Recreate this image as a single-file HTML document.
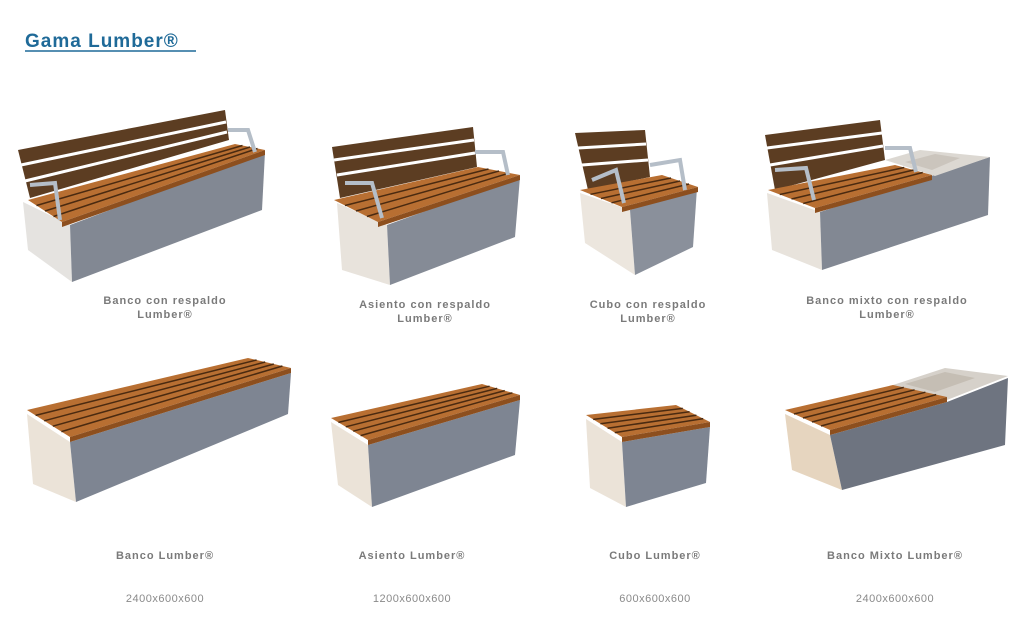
<!DOCTYPE html>
<html><head><meta charset="utf-8"><style>
html,body{margin:0;padding:0;background:#fff;}
body{width:1030px;height:644px;overflow:hidden;position:relative;font-family:"Liberation Sans",sans-serif;}
svg{position:absolute;left:0;top:0;}
</style></head><body>
<svg width="1030" height="644" viewBox="0 0 1030 644" xmlns="http://www.w3.org/2000/svg">
<text x="25" y="47" font-family="Liberation Sans, sans-serif" font-size="19" font-weight="bold" fill="#1f6a98" letter-spacing="1">Gama Lumber®</text>
<line x1="25" y1="51" x2="196" y2="51" stroke="#1f6a98" stroke-width="1.5"/>

<g font-family="Liberation Sans, sans-serif" font-size="11" font-weight="bold" fill="#7a7a7a" text-anchor="middle" letter-spacing="1">
<text x="165" y="304">Banco con respaldo</text><text x="165" y="318">Lumber®</text>
<text x="425" y="308">Asiento con respaldo</text><text x="425" y="322">Lumber®</text>
<text x="648" y="308">Cubo con respaldo</text><text x="648" y="322">Lumber®</text>
<text x="887" y="304">Banco mixto con respaldo</text><text x="887" y="318">Lumber®</text>
<text x="165" y="559">Banco Lumber®</text>
<text x="412" y="559">Asiento Lumber®</text>
<text x="655" y="559">Cubo Lumber®</text>
<text x="895" y="559">Banco Mixto Lumber®</text>
</g>
<g font-family="Liberation Sans, sans-serif" font-size="11" fill="#8a8a8a" text-anchor="middle" letter-spacing="0.5">
<text x="165" y="602">2400x600x600</text>
<text x="412" y="602">1200x600x600</text>
<text x="655" y="602">600x600x600</text>
<text x="895" y="602">2400x600x600</text>
</g>

<!-- Row 2 bench A -->
<polygon points="27,414 70,442 76,502 33,484" fill="#ebe3d8"/>
<polygon points="70,442 291,373 288,414 76,502" fill="#7e8592"/>
<polygon points="27,410 70,437 291,368 248,358" fill="#b86f32"/>
<polygon points="70,437 291,368 291,373 70,442" fill="#8d4f1e"/>
<g stroke="#4a2a10" stroke-width="1.5">
<line x1="35.6" y1="415.4" x2="256.6" y2="360"/><line x1="44.2" y1="420.8" x2="265.2" y2="362"/>
<line x1="52.8" y1="426.2" x2="273.8" y2="364"/><line x1="61.4" y1="431.6" x2="282.4" y2="366"/></g>

<!-- Row 2 bench B -->
<polygon points="331,422 368,445 372,507 338,485" fill="#ebe3d8"/>
<polygon points="368,445 520,400 515,455 372,507" fill="#7e8592"/>
<polygon points="331,418 368,440 520,395 482,384" fill="#b86f32"/>
<polygon points="368,440 520,395 520,400 368,445" fill="#8d4f1e"/>
<g stroke="#4a2a10" stroke-width="1.5">
<line x1="338.4" y1="422.4" x2="489.6" y2="386.2"/><line x1="345.8" y1="426.8" x2="497.2" y2="388.4"/>
<line x1="353.2" y1="431.2" x2="504.8" y2="390.6"/><line x1="360.6" y1="435.6" x2="512.4" y2="392.8"/></g>

<!-- Row 2 bench C -->
<polygon points="586,419 622,442 626,507 590,488" fill="#ebe3d8"/>
<polygon points="622,442 710,427 706,483 626,507" fill="#7e8592"/>
<polygon points="586,415 622,437 710,422 676,405" fill="#b86f32"/>
<polygon points="622,437 710,422 710,427 622,442" fill="#8d4f1e"/>
<g stroke="#4a2a10" stroke-width="1.5">
<line x1="593.2" y1="419.4" x2="682.8" y2="408.4"/><line x1="600.4" y1="423.8" x2="689.6" y2="411.8"/>
<line x1="607.6" y1="428.2" x2="696.4" y2="415.2"/><line x1="614.8" y1="432.6" x2="703.2" y2="418.6"/></g>

<!-- Row 2 bench D -->
<polygon points="785,414 830,435 842,490 792,470" fill="#e6d5bf"/>
<polygon points="830,435 947,402 1008,378 1005,445 842,490" fill="#6e7480"/>
<polygon points="893,385 945,368 1008,376 947,400" fill="#d6d1ca"/>
<polygon points="905,384 945,372 975,378 935,392" fill="#c5beb4"/>
<polygon points="785,410 830,430 947,397 893,385" fill="#b86f32"/>
<polygon points="830,430 947,397 947,402 830,435" fill="#8d4f1e"/>
<g stroke="#4a2a10" stroke-width="1.5">
<line x1="794" y1="414" x2="903.8" y2="387.4"/><line x1="803" y1="418" x2="914.6" y2="389.8"/>
<line x1="812" y1="422" x2="925.4" y2="392.2"/><line x1="821" y1="426" x2="936.2" y2="394.6"/></g>

<!-- Row 1 bench E -->
<polygon points="18,150 225,110 229,140 30,198" fill="#5c3d22"/>
<g stroke="#ffffff" stroke-width="3"><line x1="21" y1="165" x2="226" y2="122"/><line x1="25" y1="181" x2="227" y2="132"/></g>
<polygon points="23,202 70,225 72,282 28,250" fill="#e5e3e0"/>
<polygon points="70,225 265,152 262,210 72,282" fill="#828893"/>
<polygon points="28,200 62,222 265,150 235,144" fill="#b86f32"/>
<polygon points="62,222 265,150 265,155 62,227" fill="#8d4f1e"/>
<g stroke="#4a2a10" stroke-width="1.5">
<line x1="36.5" y1="205.5" x2="242.5" y2="145.5"/><line x1="45" y1="211" x2="250" y2="147"/><line x1="53.5" y1="216.5" x2="257.5" y2="148.5"/></g>
<g fill="none" stroke="#b5bec8" stroke-width="4"><path d="M30,185 L55,183 L60,220"/><path d="M228,130 L248,130 L255,152"/></g>

<!-- Row 1 bench F -->
<polygon points="332,147 473,127 477,167 340,198" fill="#5c3d22"/>
<g stroke="#ffffff" stroke-width="3"><line x1="334" y1="160" x2="474" y2="140"/><line x1="337" y1="175" x2="475" y2="153"/></g>
<polygon points="337,203 387,225 390,285 342,270" fill="#e8e3dc"/>
<polygon points="387,225 520,177 515,237 390,285" fill="#858b96"/>
<polygon points="334,200 378,222 520,175 478,167" fill="#b86f32"/>
<polygon points="378,222 520,175 520,180 378,227" fill="#8d4f1e"/>
<g stroke="#4a2a10" stroke-width="1.5">
<line x1="345" y1="205.5" x2="488.5" y2="169"/><line x1="356" y1="211" x2="499" y2="171"/><line x1="367" y1="216.5" x2="509.5" y2="173"/></g>
<g fill="none" stroke="#b5bec8" stroke-width="4"><path d="M345,183 L372,183 L382,218"/><path d="M475,152 L503,152 L508,175"/></g>

<!-- Row 1 bench G -->
<polygon points="575,133 645,130 650,177 588,190" fill="#5c3d22"/>
<g stroke="#ffffff" stroke-width="3"><line x1="578" y1="148" x2="646" y2="144"/><line x1="582" y1="165" x2="648" y2="160"/></g>
<polygon points="580,193 630,210 635,275 585,243" fill="#ece6de"/>
<polygon points="630,210 697,188 693,247 635,275" fill="#8a909b"/>
<polygon points="580,190 622,207 698,187 662,175" fill="#b86f32"/>
<polygon points="622,207 698,187 698,192 622,212" fill="#8d4f1e"/>
<g stroke="#4a2a10" stroke-width="1.5">
<line x1="590.5" y1="194.3" x2="671" y2="178"/><line x1="601" y1="198.5" x2="680" y2="181"/><line x1="611.5" y1="202.8" x2="689" y2="184"/></g>
<g fill="none" stroke="#b5bec8" stroke-width="4"><path d="M592,180 L616,170 L624,203"/><path d="M650,165 L680,160 L685,190"/></g>

<!-- Row 1 bench H -->
<polygon points="765,135 880,120 885,160 775,190" fill="#5c3d22"/>
<g stroke="#ffffff" stroke-width="3"><line x1="767" y1="148" x2="882" y2="133"/><line x1="770" y1="165" x2="883" y2="146"/></g>
<polygon points="767,193 820,212 822,270 772,250" fill="#e8e3dc"/>
<polygon points="820,212 990,157 988,215 822,270" fill="#828893"/>
<polygon points="885,160 920,150 990,157 935,176" fill="#dcd8d2"/>
<polygon points="905,162 935,154 960,158 932,170" fill="#cbc5bd"/>
<polygon points="768,190 815,208 932,175 895,165" fill="#b86f32"/>
<polygon points="815,208 932,175 932,180 815,213" fill="#8d4f1e"/>
<g stroke="#4a2a10" stroke-width="1.5">
<line x1="779.75" y1="194.5" x2="904.25" y2="167.5"/><line x1="791.5" y1="199" x2="913.5" y2="170"/><line x1="803.25" y1="203.5" x2="922.75" y2="172.5"/></g>
<g fill="none" stroke="#b5bec8" stroke-width="4"><path d="M775,170 L806,168 L814,200"/><path d="M885,148 L910,148 L916,172"/></g>
</svg>
</body></html>
